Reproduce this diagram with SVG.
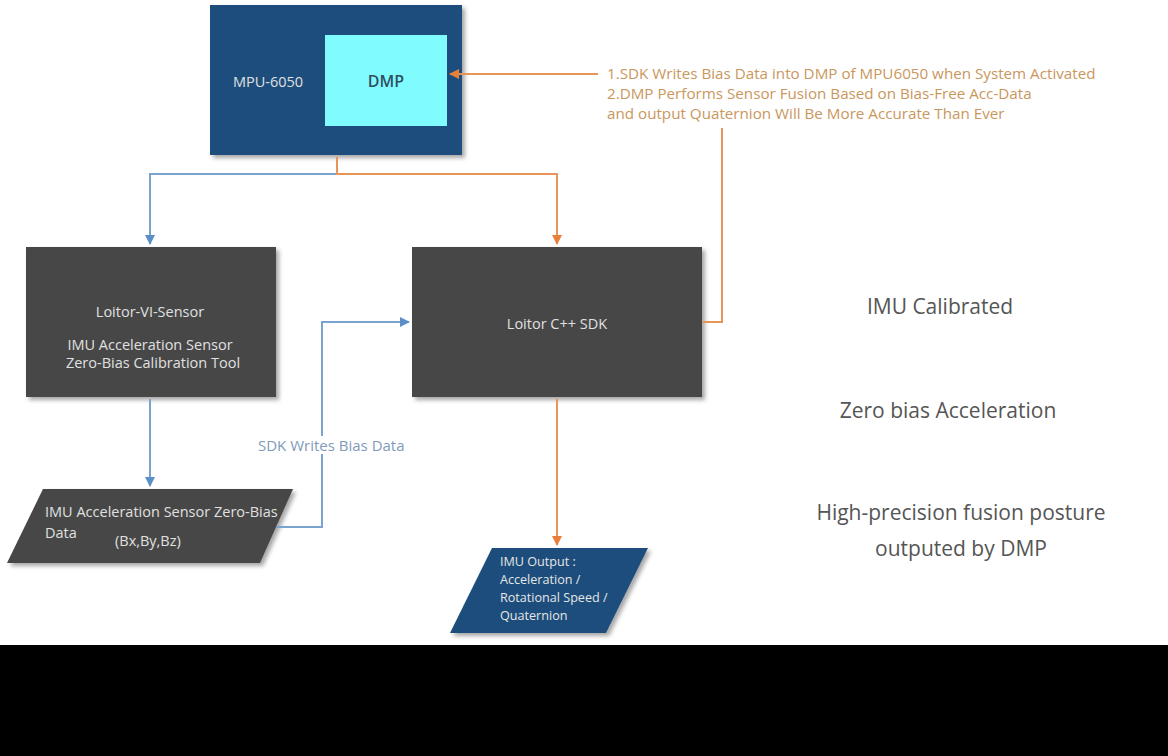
<svg xmlns="http://www.w3.org/2000/svg" width="1168" height="756" viewBox="0 0 1168 756">
<defs>
<filter id="sh" x="-10%" y="-10%" width="130%" height="130%">
<feDropShadow dx="3" dy="3" stdDeviation="2" flood-color="#000" flood-opacity="0.35"/>
</filter>
<marker id="ab" viewBox="0 0 10 10" refX="9" refY="5" markerWidth="5" markerHeight="5" orient="auto"><path d="M0,0 L10,5 L0,10 z" fill="#5b8fc7"/></marker>
<marker id="ao" viewBox="0 0 10 10" refX="9" refY="5" markerWidth="5" markerHeight="5" orient="auto"><path d="M0,0 L10,5 L0,10 z" fill="#e8803a"/></marker>
<clipPath id="cp1"><path d="M43,489 H293 L260,563 H7 Z"/></clipPath>
</defs>
<style>
text{font-family:"Open Sans","Noto Sans","Liberation Sans",sans-serif}
.blue{stroke:#7ba3cf;stroke-width:2;fill:none}
.orng{stroke:#e9955a;stroke-width:2;fill:none}
.wt{fill:#e0e0e0;font-size:14.5px}
.side{fill:#555;font-size:21px;text-anchor:middle}
.note{fill:#c9975d;font-size:15.2px}
.out{fill:#e6e6e6;font-size:12.6px;font-weight:500}
</style>
<rect width="1168" height="756" fill="#fff"/>
<g id="mpu">
<rect x="210" y="5" width="252" height="150" fill="#1f4e7c" filter="url(#sh)"/>
<text x="268" y="87" class="wt" text-anchor="middle" font-size="17">MPU-6050</text>
</g>
<g id="dmp">
<rect x="325" y="35" width="122" height="91" fill="#80fcff"/>
<text x="386" y="87" fill="#2f4f5f" font-size="16" text-anchor="middle" font-weight="600">DMP</text>
</g>
<g id="vi-sensor">
<rect x="26" y="247" width="250" height="150" fill="#474747" filter="url(#sh)"/>
<text x="150" y="317" class="wt" text-anchor="middle">Loitor-VI-Sensor</text>
<text x="150" y="350" class="wt" text-anchor="middle">IMU Acceleration Sensor</text>
<text x="153" y="368" class="wt" text-anchor="middle">Zero-Bias Calibration Tool</text>
</g>
<g id="sdk">
<rect x="412" y="247" width="290" height="150" fill="#474747" filter="url(#sh)"/>
<text x="557" y="329" class="wt" text-anchor="middle" font-size="15.5">Loitor C++ SDK</text>
</g>
<g id="bias-data">
<path d="M43,489 H293 L260,563 H7 Z" fill="#474747" filter="url(#sh)"/>
<g clip-path="url(#cp1)">
<text x="45" y="517" class="wt" font-size="15.4">IMU Acceleration Sensor Zero-Bias</text>
<text x="45" y="538" class="wt" font-size="15">Data</text>
<text x="115" y="546" class="wt" font-size="15">(Bx,By,Bz)</text>
</g>
</g>
<g id="imu-output">
<path d="M492,548 H648 L606,633 H450 Z" fill="#1f4e7c" filter="url(#sh)"/>
<text x="500" y="566" class="out">IMU Output :</text>
<text x="500" y="584" class="out">Acceleration /</text>
<text x="500" y="602" class="out">Rotational Speed /</text>
<text x="500" y="620" class="out">Quaternion</text>
</g>
<g id="legend">
<text x="940" y="314" class="side">IMU Calibrated</text>
<text x="948" y="418" class="side">Zero bias Acceleration</text>
<text x="961" y="520" class="side">High-precision fusion posture</text>
<text x="961" y="556" class="side">outputed by DMP</text>
</g>
<g id="note">
<text class="note" x="607" y="79">1.SDK Writes Bias Data into DMP of MPU6050 when System Activated</text>
<text class="note" x="607" y="99">2.DMP Performs Sensor Fusion Based on Bias-Free Acc-Data</text>
<text class="note" x="607" y="119">and output Quaternion Will Be More Accurate Than Ever</text>
</g>
<g id="connectors">
<path class="blue" d="M337,174 H150 V244" marker-end="url(#ab)"/>
<path class="orng" d="M337,157 V174 H557 V244" marker-end="url(#ao)"/>
<path class="blue" d="M150,399 V486" marker-end="url(#ab)"/>
<path class="blue" d="M276,527 H322 V322 H409" marker-end="url(#ab)"/>
<path class="orng" d="M557,399 V545" marker-end="url(#ao)"/>
<path class="orng" d="M703,322 H722 V128"/>
<path class="orng" d="M598,74 H450" marker-end="url(#ao)"/>
<rect x="254" y="436" width="156" height="18" fill="#fff"/>
<text x="258" y="451" fill="#7f9bbb" font-size="15">SDK Writes Bias Data</text>
</g>
<rect x="0" y="645" width="1168" height="111" fill="#000"/>
</svg>
